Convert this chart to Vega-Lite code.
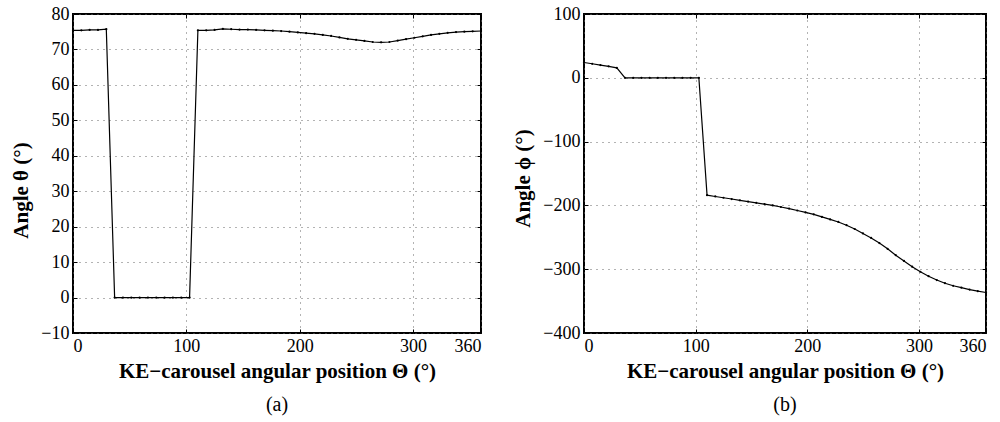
{
  "$schema": "https://vega.github.io/schema/vega-lite/v6.json",
  "background": "white",
  "padding": {"left": 9, "top": 4, "right": 5, "bottom": 2},
  "datasets": {
    "d": [
      {"pos": 0, "theta": 75.4, "phi": 24},
      {"pos": 7.35, "theta": 75.4, "phi": 22},
      {"pos": 14.69, "theta": 75.5, "phi": 20},
      {"pos": 22.04, "theta": 75.5, "phi": 18},
      {"pos": 29.39, "theta": 75.7, "phi": 15.5},
      {"pos": 36.73, "theta": 0, "phi": 0},
      {"pos": 44.08, "theta": 0, "phi": 0},
      {"pos": 51.43, "theta": 0, "phi": 0},
      {"pos": 58.78, "theta": 0, "phi": 0},
      {"pos": 66.12, "theta": 0, "phi": 0},
      {"pos": 73.47, "theta": 0, "phi": 0},
      {"pos": 80.82, "theta": 0, "phi": 0},
      {"pos": 88.16, "theta": 0, "phi": 0},
      {"pos": 95.51, "theta": 0, "phi": 0},
      {"pos": 102.86, "theta": 0, "phi": 0},
      {"pos": 110.2, "theta": 75.4, "phi": -184},
      {"pos": 117.55, "theta": 75.4, "phi": -186},
      {"pos": 124.9, "theta": 75.5, "phi": -188},
      {"pos": 132.24, "theta": 75.8, "phi": -190},
      {"pos": 139.59, "theta": 75.7, "phi": -192},
      {"pos": 146.94, "theta": 75.6, "phi": -194},
      {"pos": 154.29, "theta": 75.6, "phi": -196},
      {"pos": 161.63, "theta": 75.5, "phi": -198},
      {"pos": 168.98, "theta": 75.4, "phi": -200},
      {"pos": 176.33, "theta": 75.3, "phi": -202.5},
      {"pos": 183.67, "theta": 75.2, "phi": -205},
      {"pos": 191.02, "theta": 75.0, "phi": -208},
      {"pos": 198.37, "theta": 74.8, "phi": -211},
      {"pos": 205.71, "theta": 74.6, "phi": -214},
      {"pos": 213.06, "theta": 74.4, "phi": -218},
      {"pos": 220.41, "theta": 74.1, "phi": -222},
      {"pos": 227.76, "theta": 73.8, "phi": -226},
      {"pos": 235.1, "theta": 73.4, "phi": -231},
      {"pos": 242.45, "theta": 73.0, "phi": -237},
      {"pos": 249.8, "theta": 72.7, "phi": -244},
      {"pos": 257.14, "theta": 72.4, "phi": -251},
      {"pos": 264.49, "theta": 72.1, "phi": -259},
      {"pos": 271.84, "theta": 72.0, "phi": -268},
      {"pos": 279.18, "theta": 72.1, "phi": -278},
      {"pos": 286.53, "theta": 72.5, "phi": -287},
      {"pos": 293.88, "theta": 72.9, "phi": -296},
      {"pos": 301.22, "theta": 73.3, "phi": -304},
      {"pos": 308.57, "theta": 73.7, "phi": -311},
      {"pos": 315.92, "theta": 74.1, "phi": -317},
      {"pos": 323.27, "theta": 74.4, "phi": -322},
      {"pos": 330.61, "theta": 74.7, "phi": -326},
      {"pos": 337.96, "theta": 74.9, "phi": -329},
      {"pos": 345.31, "theta": 75.0, "phi": -332},
      {"pos": 352.65, "theta": 75.1, "phi": -334.5},
      {"pos": 360, "theta": 75.2, "phi": -336.5}
    ]
  },
  "config": {
    "view": {"stroke": "black", "strokeWidth": 2},
    "axis": {
      "domain": false,
      "tickColor": "black",
      "tickSize": -4,
      "tickWidth": 1,
      "grid": true,
      "gridColor": "#666666",
      "gridDash": [1, 5],
      "gridWidth": 1,
      "labelFont": "Liberation Serif",
      "labelFontSize": 18,
      "labelColor": "black",
      "labelPadding": 8,
      "titleFont": "Liberation Serif",
      "titleFontSize": 21,
      "titleFontWeight": "bold",
      "titleColor": "black"
    },
    "title": {"font": "Liberation Serif", "fontSize": 20, "fontWeight": "normal", "color": "black"}
  },
  "bounds": "flush",
  "spacing": 103,
  "hconcat": [
    {
      "width": 408,
      "height": 319,
      "data": {"name": "d"},
      "title": {"text": "(a)", "orient": "bottom", "offset": 14},
      "layer": [
        {
          "mark": {"type": "line", "color": "black", "strokeWidth": 1.2, "point": {"filled": true, "size": 5, "color": "black"}},
          "encoding": {
            "x": {"field": "pos", "type": "quantitative", "scale": {"domain": [0, 360], "nice": false, "zero": false},
                  "axis": {"orient": "bottom", "values": [0, 100, 200, 300, 360], "title": "KE−carousel angular position Θ (°)", "titlePadding": 5}},
            "y": {"field": "theta", "type": "quantitative", "scale": {"domain": [-10, 80], "nice": false, "zero": false},
                  "axis": {"orient": "left", "values": [-10, 0, 10, 20, 30, 40, 50, 60, 70, 80], "title": "Angle θ (°)", "titleY": 176, "titlePadding": 9}}
          }
        },
        {
          "mark": {"type": "line", "opacity": 0},
          "encoding": {
            "x": {"field": "pos", "type": "quantitative", "axis": {"orient": "top", "values": [0, 100, 200, 300, 360], "labels": false, "grid": false, "title": null}},
            "y": {"field": "theta", "type": "quantitative", "axis": {"orient": "right", "values": [-10, 0, 10, 20, 30, 40, 50, 60, 70, 80], "labels": false, "grid": false, "title": null}}
          }
        }
      ],
      "resolve": {"axis": {"x": "independent", "y": "independent"}}
    },
    {
      "width": 402,
      "height": 319,
      "data": {"name": "d"},
      "title": {"text": "(b)", "orient": "bottom", "offset": 14},
      "layer": [
        {
          "mark": {"type": "line", "color": "black", "strokeWidth": 1.2, "point": {"filled": true, "size": 5, "color": "black"}},
          "encoding": {
            "x": {"field": "pos", "type": "quantitative", "scale": {"domain": [0, 360], "nice": false, "zero": false},
                  "axis": {"orient": "bottom", "values": [0, 100, 200, 300, 360], "title": "KE−carousel angular position Θ (°)", "titlePadding": 5}},
            "y": {"field": "phi", "type": "quantitative", "scale": {"domain": [-400, 100], "nice": false, "zero": false},
                  "axis": {"orient": "left", "values": [-400, -300, -200, -100, 0, 100], "title": "Angle ϕ (°)", "titleY": 164, "titlePadding": 9}}
          }
        },
        {
          "mark": {"type": "line", "opacity": 0},
          "encoding": {
            "x": {"field": "pos", "type": "quantitative", "axis": {"orient": "top", "values": [0, 100, 200, 300, 360], "labels": false, "grid": false, "title": null}},
            "y": {"field": "phi", "type": "quantitative", "axis": {"orient": "right", "values": [-400, -300, -200, -100, 0, 100], "labels": false, "grid": false, "title": null}}
          }
        }
      ],
      "resolve": {"axis": {"x": "independent", "y": "independent"}}
    }
  ]
}
